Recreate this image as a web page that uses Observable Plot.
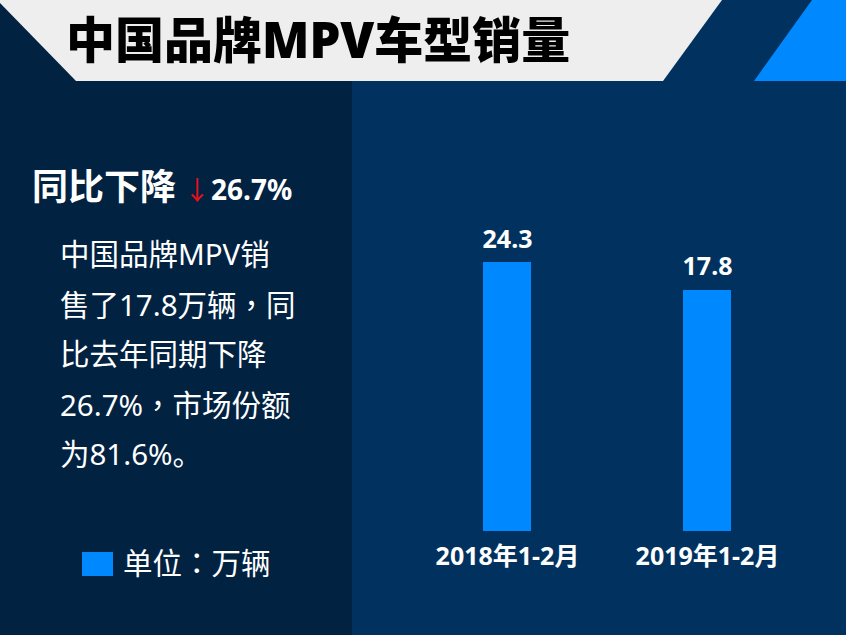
<!DOCTYPE html>
<html>
<head>
<meta charset="utf-8">
<script src="https://cdn.jsdelivr.net/npm/d3@7"></script>
<script src="https://cdn.jsdelivr.net/npm/@observablehq/plot@0.6"></script>
<style>
  html, body { margin: 0; padding: 0; background: #012241; }
  #wrap { position: relative; width: 846px; height: 635px; overflow: hidden;
    font-family: "Noto Sans", "Noto Sans CJK SC", sans-serif; color: #fff; }
  .abs { position: absolute; white-space: nowrap; }
  #bg { position: absolute; left: 0; top: 0; }
  #chart { position: absolute; left: 352px; top: 0; }
  .tc { font-family: "Noto Sans CJK TC", sans-serif; }
</style>
</head>
<body>
<div id="wrap">
  <svg id="bg" width="846" height="635">
    <rect x="0" y="0" width="352" height="635" fill="#012241"></rect>
    <rect x="352" y="0" width="494" height="635" fill="#01325f"></rect>
    <polygon points="0,0 722,0 663,81 76,81 0,3" fill="#eeeeee"></polygon>
    <polygon points="812,0 846,0 846,81 754,81" fill="#0088ff"></polygon>
  </svg>
  <div id="title" class="abs" style="left:66px; top:9px; font-size:49px; line-height:60px; font-weight:900; color:#000;"></div>
  <div id="headline" class="abs" style="left:32px; top:164px; line-height:40px;"></div>
  <div id="para" class="abs" style="left:60px; top:229px; font-size:29.5px; line-height:49.5px;"></div>
  <div id="legend" class="abs" style="left:82px; top:541px; height:40px; line-height:40px; font-size:29.5px;"></div>
  <div id="chart"></div>
</div>
<script>
// ---- data ----
const titleText = "中国品牌MPV车型销量";
const headlineLabel = "同比下降";
const headlineArrow = "↓";
const headlineValue = "26.7%";
const paragraphLines = ["中国品牌MPV销", "售了17.8万辆，同", "比去年同期下降", "26.7%，市场份额", "为81.6%。"];
const legendText = "单位：万辆";
const categories = ["2018年1-2月", "2019年1-2月"];
const values = [24.3, 17.8];

// render a string, centering full-width comma/colon like the reference
function fillText(el, t) {
  t.split(/([，：])/).forEach(part => {
    if (!part) return;
    if (part === "，" || part === "：") {
      const s = document.createElement("span");
      s.className = "tc";
      s.textContent = part;
      el.appendChild(s);
    } else {
      el.appendChild(document.createTextNode(part));
    }
  });
}

// ---- text blocks ----
document.getElementById("title").textContent = titleText;
const hl = document.getElementById("headline");
const s1 = document.createElement("span");
s1.textContent = headlineLabel;
s1.style.cssText = "font-size:36px;font-weight:700;font-family:'Noto Sans CJK SC';";
const s2 = document.createElement("span");
s2.textContent = headlineArrow;
s2.style.cssText = "font-size:26px;color:#e8101a;margin-left:8px;font-family:'Noto Sans CJK SC';";
const s3 = document.createElement("span");
s3.textContent = headlineValue;
s3.style.cssText = "font-size:28px;font-weight:700;margin-left:1px;";
hl.append(s1, s2, s3);
const para = document.getElementById("para");
paragraphLines.forEach(t => { const d = document.createElement("div"); fillText(d, t); para.appendChild(d); });
const lg = document.getElementById("legend");
const sw = document.createElement("span");
sw.style.cssText = "display:inline-block;width:31px;height:24px;background:#0088ff;vertical-align:middle;margin-right:10px;position:relative;top:-2px;";
const lt = document.createElement("span");
fillText(lt, legendText);
lg.append(sw, lt);

// ---- chart ----
const data = categories.map((c, i) => ({cat: c, value: values[i]}));
const yBaseline = -38.15;
const chart = Plot.plot({
  width: 494,
  height: 635,
  marginTop: 262,
  marginBottom: 104,
  marginLeft: 111,
  marginRight: 95,
  style: {background: "transparent", color: "white", fontFamily: "'Noto Sans', 'Noto Sans CJK SC', sans-serif", overflow: "visible"},
  x: {domain: categories, paddingInner: 0.76, paddingOuter: 0.1, axis: null},
  y: {domain: [yBaseline, 24.3], axis: null},
  marks: [
    Plot.barY(data, {x: "cat", y1: yBaseline, y2: "value", fill: "#0088ff"}),
    Plot.text(data, {x: "cat", y: "value", text: d => d.value.toFixed(1), dy: -23, fontSize: 25, fontWeight: "bold", fill: "white"}),
    Plot.axisX({tickSize: 0, tickPadding: 16, fontSize: 25, fontWeight: "bold", fill: "white", label: null})
  ]
});
document.getElementById("chart").appendChild(chart);
</script>
</body>
</html>
